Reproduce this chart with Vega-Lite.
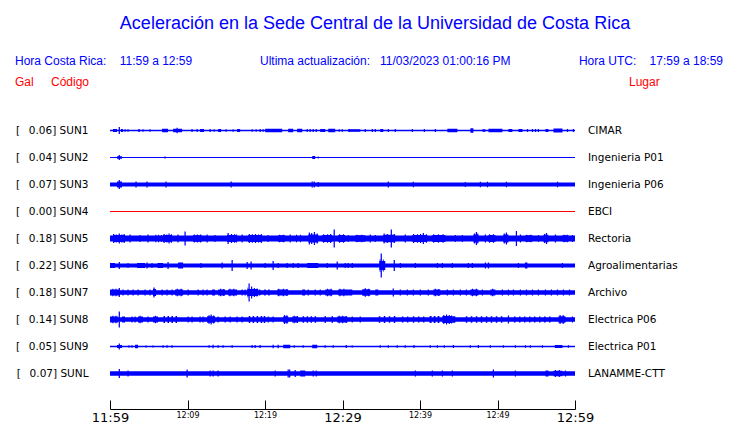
{
"$schema":"https://vega.github.io/schema/vega-lite/v6.json",
"width":465,"height":270,
"autosize":"none",
"padding":{"left":110,"top":117,"right":165,"bottom":36},
"background":"white",
"config":{"view":{"stroke":null},"font":"DejaVu Sans"},
"datasets":{
"estaciones":[
{"est":"SUN1","etiqueta":"[\u00a0\u00a0\u20090.06] SUN1","lugar":"CIMAR"},
{"est":"SUN2","etiqueta":"[\u00a0\u00a0\u20090.04] SUN2","lugar":"Ingenieria P01"},
{"est":"SUN3","etiqueta":"[\u00a0\u00a0\u20090.07] SUN3","lugar":"Ingenieria P06"},
{"est":"SUN4","etiqueta":"[\u00a0\u00a0\u20090.00] SUN4","lugar":"EBCI"},
{"est":"SUN5","etiqueta":"[\u00a0\u00a0\u20090.18] SUN5","lugar":"Rectoria"},
{"est":"SUN6","etiqueta":"[\u00a0\u00a0\u20090.22] SUN6","lugar":"Agroalimentarias"},
{"est":"SUN7","etiqueta":"[\u00a0\u00a0\u20090.18] SUN7","lugar":"Archivo"},
{"est":"SUN8","etiqueta":"[\u00a0\u00a0\u20090.14] SUN8","lugar":"Electrica P06"},
{"est":"SUN9","etiqueta":"[\u00a0\u00a0\u20090.05] SUN9","lugar":"Electrica P01"},
{"est":"SUNL","etiqueta":"[\u00a0\u00a0\u20090.07] SUNL","lugar":"LANAMME-CTT"}
],
"trazas":[
{"est":"SUN1","t0":0,"t1":60,"amp":1.5},{"est":"SUN1","t0":0.39,"t1":0.9,"amp":3},{"est":"SUN1","t0":1.12,"t1":1.28,"amp":7},{"est":"SUN1","t0":1.42,"t1":1.68,"amp":3},{"est":"SUN1","t0":1.86,"t1":2.02,"amp":2.5},{"est":"SUN1","t0":2.25,"t1":2.4,"amp":2.5},{"est":"SUN1","t0":3.62,"t1":3.88,"amp":2.5},{"est":"SUN1","t0":4.19,"t1":4.34,"amp":2.5},{"est":"SUN1","t0":5.09,"t1":5.24,"amp":2.5},{"est":"SUN1","t0":6.72,"t1":7.49,"amp":3.5},{"est":"SUN1","t0":8.14,"t1":9.3,"amp":3.5},{"est":"SUN1","t0":8.58,"t1":8.73,"amp":5.5},{"est":"SUN1","t0":10.51,"t1":10.67,"amp":3},{"est":"SUN1","t0":11.16,"t1":11.32,"amp":3},{"est":"SUN1","t0":11.62,"t1":12.14,"amp":3},{"est":"SUN1","t0":12.84,"t1":13,"amp":3},{"est":"SUN1","t0":13.36,"t1":13.51,"amp":2.5},{"est":"SUN1","t0":13.95,"t1":14.34,"amp":3},{"est":"SUN1","t0":14.9,"t1":15.06,"amp":2.5},{"est":"SUN1","t0":15.81,"t1":15.97,"amp":2.5},{"est":"SUN1","t0":16.4,"t1":16.79,"amp":3},{"est":"SUN1","t0":18.26,"t1":18.42,"amp":2.5},{"est":"SUN1","t0":18.78,"t1":18.94,"amp":2.5},{"est":"SUN1","t0":19.29,"t1":19.45,"amp":3},{"est":"SUN1","t0":19.68,"t1":19.84,"amp":2.5},{"est":"SUN1","t0":20.02,"t1":22.22,"amp":3.5},{"est":"SUN1","t0":22.99,"t1":23.64,"amp":3.5},{"est":"SUN1","t0":24.15,"t1":24.8,"amp":3.5},{"est":"SUN1","t0":25.37,"t1":25.53,"amp":3},{"est":"SUN1","t0":25.75,"t1":25.91,"amp":3},{"est":"SUN1","t0":26.14,"t1":26.3,"amp":3},{"est":"SUN1","t0":26.53,"t1":26.69,"amp":3},{"est":"SUN1","t0":27.12,"t1":27.77,"amp":3},{"est":"SUN1","t0":28.16,"t1":29.06,"amp":3.5},{"est":"SUN1","t0":29.5,"t1":29.66,"amp":2.5},{"est":"SUN1","t0":29.89,"t1":30.05,"amp":2.5},{"est":"SUN1","t0":30.74,"t1":32.29,"amp":2.5},{"est":"SUN1","t0":30.79,"t1":30.95,"amp":3},{"est":"SUN1","t0":32.86,"t1":33.02,"amp":3},{"est":"SUN1","t0":33.77,"t1":33.93,"amp":3},{"est":"SUN1","t0":34.15,"t1":34.31,"amp":3},{"est":"SUN1","t0":34.87,"t1":35.26,"amp":3},{"est":"SUN1","t0":35.83,"t1":35.99,"amp":3},{"est":"SUN1","t0":36.73,"t1":36.89,"amp":3},{"est":"SUN1","t0":38.93,"t1":39.09,"amp":3},{"est":"SUN1","t0":40.48,"t1":40.64,"amp":3},{"est":"SUN1","t0":41.9,"t1":42.06,"amp":3},{"est":"SUN1","t0":43.53,"t1":44.82,"amp":3.5},{"est":"SUN1","t0":46.5,"t1":46.89,"amp":4.5},{"est":"SUN1","t0":48.05,"t1":48.44,"amp":2.5},{"est":"SUN1","t0":48.83,"t1":50.63,"amp":3.5},{"est":"SUN1","t0":51.41,"t1":51.92,"amp":3},{"est":"SUN1","t0":52.7,"t1":53.22,"amp":3},{"est":"SUN1","t0":53.79,"t1":53.95,"amp":3},{"est":"SUN1","t0":54.43,"t1":54.59,"amp":3},{"est":"SUN1","t0":54.82,"t1":54.98,"amp":3},{"est":"SUN1","t0":55.2,"t1":55.36,"amp":3},{"est":"SUN1","t0":56.19,"t1":56.57,"amp":3},{"est":"SUN1","t0":57.22,"t1":58.38,"amp":4},{"est":"SUN1","t0":58.95,"t1":59.11,"amp":3},{"est":"SUN1","t0":59.72,"t1":59.88,"amp":3},
{"est":"SUN2","t0":0,"t1":60,"amp":1},{"est":"SUN2","t0":0.9,"t1":1.55,"amp":2.5},{"est":"SUN2","t0":1.12,"t1":1.28,"amp":5},{"est":"SUN2","t0":7.02,"t1":7.18,"amp":2},{"est":"SUN2","t0":26.09,"t1":26.48,"amp":3},{"est":"SUN2","t0":26.79,"t1":26.95,"amp":2},
{"est":"SUN3","t0":0,"t1":60,"amp":4},{"est":"SUN3","t0":0.9,"t1":1.55,"amp":6},{"est":"SUN3","t0":1.12,"t1":1.28,"amp":9},{"est":"SUN3","t0":3.28,"t1":3.44,"amp":6},{"est":"SUN3","t0":4.7,"t1":4.86,"amp":6},{"est":"SUN3","t0":7.15,"t1":7.31,"amp":6},{"est":"SUN3","t0":15.55,"t1":15.71,"amp":6},{"est":"SUN3","t0":26.01,"t1":26.17,"amp":6},{"est":"SUN3","t0":26.27,"t1":26.43,"amp":6},{"est":"SUN3","t0":26.79,"t1":26.95,"amp":5},{"est":"SUN3","t0":35.83,"t1":35.99,"amp":6},{"est":"SUN3","t0":39.06,"t1":39.22,"amp":5.5},{"est":"SUN3","t0":45.77,"t1":45.93,"amp":5},{"est":"SUN3","t0":47.71,"t1":47.87,"amp":5.5},{"est":"SUN3","t0":48.62,"t1":48.78,"amp":5.5},{"est":"SUN3","t0":51.07,"t1":51.23,"amp":5.5},{"est":"SUN3","t0":57.66,"t1":57.82,"amp":5.5},
{"est":"SUN4","t0":0,"t1":60,"amp":1},
{"est":"SUN5","t0":0,"t1":60,"amp":6},
{"est":"SUN5","t0":0.39,"t1":1.94,"amp":7},{"est":"SUN5","t0":0.39,"t1":0.55,"amp":9},{"est":"SUN5","t0":0.75,"t1":0.9,"amp":8},{"est":"SUN5","t0":1.12,"t1":1.28,"amp":10},{"est":"SUN5","t0":1.45,"t1":1.6,"amp":8},{"est":"SUN5","t0":1.75,"t1":1.9,"amp":9},
{"est":"SUN5","t0":2.51,"t1":2.67,"amp":8},{"est":"SUN5","t0":3.8,"t1":3.96,"amp":7},{"est":"SUN5","t0":4.83,"t1":4.99,"amp":8},
{"est":"SUN5","t0":5.85,"t1":6,"amp":7.5},{"est":"SUN5","t0":6.2,"t1":6.35,"amp":7.5},{"est":"SUN5","t0":6.55,"t1":6.7,"amp":7},
{"est":"SUN5","t0":6.85,"t1":8.01,"amp":7},{"est":"SUN5","t0":6.9,"t1":7.05,"amp":9},{"est":"SUN5","t0":7.25,"t1":7.4,"amp":8},{"est":"SUN5","t0":7.54,"t1":7.7,"amp":10},{"est":"SUN5","t0":7.85,"t1":8,"amp":8.5},
{"est":"SUN5","t0":8.7,"t1":8.86,"amp":8},{"est":"SUN5","t0":9.61,"t1":9.77,"amp":14},
{"est":"SUN5","t0":10.72,"t1":11.88,"amp":6.5},{"est":"SUN5","t0":10.8,"t1":10.95,"amp":8},{"est":"SUN5","t0":11.2,"t1":11.35,"amp":8},{"est":"SUN5","t0":11.6,"t1":11.75,"amp":8},
{"est":"SUN5","t0":12.45,"t1":12.61,"amp":8},{"est":"SUN5","t0":13.48,"t1":13.64,"amp":7},
{"est":"SUN5","t0":15.11,"t1":16.4,"amp":7},{"est":"SUN5","t0":15.16,"t1":15.32,"amp":11},{"est":"SUN5","t0":15.6,"t1":15.75,"amp":9},{"est":"SUN5","t0":16,"t1":16.15,"amp":8.5},{"est":"SUN5","t0":16.25,"t1":16.4,"amp":8},
{"est":"SUN5","t0":16.97,"t1":17.13,"amp":8},
{"est":"SUN5","t0":17.82,"t1":19.63,"amp":7},{"est":"SUN5","t0":17.9,"t1":18.05,"amp":9},{"est":"SUN5","t0":18.3,"t1":18.45,"amp":8.5},{"est":"SUN5","t0":18.7,"t1":18.85,"amp":9},{"est":"SUN5","t0":19.1,"t1":19.25,"amp":8},{"est":"SUN5","t0":19.45,"t1":19.6,"amp":9},
{"est":"SUN5","t0":20.33,"t1":20.49,"amp":7},
{"est":"SUN5","t0":21.7,"t1":22.6,"amp":6.5},{"est":"SUN5","t0":21.8,"t1":21.95,"amp":7.5},{"est":"SUN5","t0":22.3,"t1":22.45,"amp":7.5},
{"est":"SUN5","t0":23.17,"t1":23.33,"amp":8},{"est":"SUN5","t0":24,"t1":24.15,"amp":7.5},{"est":"SUN5","t0":24.5,"t1":24.65,"amp":7.5},
{"est":"SUN5","t0":25.58,"t1":26.87,"amp":8},{"est":"SUN5","t0":25.65,"t1":25.8,"amp":12},{"est":"SUN5","t0":25.95,"t1":26.1,"amp":11},{"est":"SUN5","t0":26.3,"t1":26.45,"amp":13},{"est":"SUN5","t0":26.65,"t1":26.8,"amp":10},
{"est":"SUN5","t0":27.38,"t1":28.68,"amp":7},{"est":"SUN5","t0":27.5,"t1":27.65,"amp":8.5},{"est":"SUN5","t0":28,"t1":28.15,"amp":8.5},{"est":"SUN5","t0":28.4,"t1":28.55,"amp":9},
{"est":"SUN5","t0":28.85,"t1":29.01,"amp":18},
{"est":"SUN5","t0":29.45,"t1":30.35,"amp":7},{"est":"SUN5","t0":29.55,"t1":29.7,"amp":8.5},{"est":"SUN5","t0":30.05,"t1":30.2,"amp":8.5},
{"est":"SUN5","t0":30.66,"t1":30.82,"amp":7},
{"est":"SUN5","t0":31.65,"t1":32.94,"amp":6.5},{"est":"SUN5","t0":31.8,"t1":31.95,"amp":7.5},{"est":"SUN5","t0":32.4,"t1":32.55,"amp":7.5},
{"est":"SUN5","t0":33.5,"t1":33.66,"amp":8},{"est":"SUN5","t0":34.15,"t1":34.31,"amp":7},
{"est":"SUN5","t0":35.26,"t1":36.81,"amp":7.5},{"est":"SUN5","t0":35.3,"t1":35.45,"amp":10},{"est":"SUN5","t0":35.7,"t1":35.85,"amp":9},{"est":"SUN5","t0":36.22,"t1":36.38,"amp":18},{"est":"SUN5","t0":36.6,"t1":36.75,"amp":9},
{"est":"SUN5","t0":38.02,"t1":38.18,"amp":8},
{"est":"SUN5","t0":39.01,"t1":40.95,"amp":7},{"est":"SUN5","t0":39.1,"t1":39.25,"amp":9},{"est":"SUN5","t0":39.6,"t1":39.75,"amp":8.5},{"est":"SUN5","t0":40,"t1":40.15,"amp":9},{"est":"SUN5","t0":40.35,"t1":40.51,"amp":11},{"est":"SUN5","t0":40.75,"t1":40.9,"amp":8.5},
{"est":"SUN5","t0":41.59,"t1":43.27,"amp":7},{"est":"SUN5","t0":41.7,"t1":41.85,"amp":8.5},{"est":"SUN5","t0":42.3,"t1":42.45,"amp":8.5},{"est":"SUN5","t0":42.9,"t1":43.05,"amp":8.5},
{"est":"SUN5","t0":44.49,"t1":44.65,"amp":7},{"est":"SUN5","t0":45.39,"t1":45.55,"amp":7},
{"est":"SUN5","t0":46.89,"t1":47.53,"amp":8},{"est":"SUN5","t0":46.95,"t1":47.1,"amp":10},{"est":"SUN5","t0":47.2,"t1":47.36,"amp":13},{"est":"SUN5","t0":47.4,"t1":47.53,"amp":10},
{"est":"SUN5","t0":48.36,"t1":48.52,"amp":8},
{"est":"SUN5","t0":48.83,"t1":49.73,"amp":7},{"est":"SUN5","t0":48.9,"t1":49.05,"amp":8.5},{"est":"SUN5","t0":49.4,"t1":49.55,"amp":8.5},
{"est":"SUN5","t0":50.76,"t1":51.41,"amp":8},{"est":"SUN5","t0":50.8,"t1":50.95,"amp":10},{"est":"SUN5","t0":51.07,"t1":51.23,"amp":12},
{"est":"SUN5","t0":52.36,"t1":52.52,"amp":15},{"est":"SUN5","t0":52.88,"t1":53.04,"amp":8},
{"est":"SUN5","t0":53.6,"t1":54.51,"amp":6.5},{"est":"SUN5","t0":53.7,"t1":53.85,"amp":7.5},{"est":"SUN5","t0":54.2,"t1":54.35,"amp":7.5},
{"est":"SUN5","t0":55.2,"t1":55.36,"amp":7},
{"est":"SUN5","t0":55.93,"t1":56.57,"amp":7.5},{"est":"SUN5","t0":56,"t1":56.15,"amp":9},{"est":"SUN5","t0":56.24,"t1":56.4,"amp":11},
{"est":"SUN5","t0":57.4,"t1":57.56,"amp":8},
{"est":"SUN5","t0":58.38,"t1":59.16,"amp":6.5},{"est":"SUN5","t0":58.5,"t1":58.65,"amp":7.5},{"est":"SUN5","t0":58.9,"t1":59.05,"amp":7.5},
{"est":"SUN5","t0":59.59,"t1":59.75,"amp":7},
{"est":"SUN6","t0":0,"t1":60,"amp":4},{"est":"SUN6","t0":0,"t1":0.65,"amp":5},{"est":"SUN6","t0":1.12,"t1":1.28,"amp":7},{"est":"SUN6","t0":2.25,"t1":2.4,"amp":5},{"est":"SUN6","t0":3.49,"t1":4.52,"amp":5},{"est":"SUN6","t0":4.7,"t1":4.86,"amp":6},{"est":"SUN6","t0":5.35,"t1":5.5,"amp":5},{"est":"SUN6","t0":6.12,"t1":6.85,"amp":5},{"est":"SUN6","t0":7.41,"t1":7.57,"amp":7},{"est":"SUN6","t0":8.78,"t1":9.43,"amp":6},{"est":"SUN6","t0":11.67,"t1":11.83,"amp":5},{"est":"SUN6","t0":14.39,"t1":14.55,"amp":6},{"est":"SUN6","t0":15.68,"t1":15.84,"amp":11},{"est":"SUN6","t0":17.62,"t1":17.78,"amp":7},{"est":"SUN6","t0":18.13,"t1":18.29,"amp":8},{"est":"SUN6","t0":19.94,"t1":20.1,"amp":5},{"est":"SUN6","t0":20.97,"t1":21.13,"amp":9},{"est":"SUN6","t0":21.62,"t1":21.78,"amp":5},{"est":"SUN6","t0":22.78,"t1":22.94,"amp":5},{"est":"SUN6","t0":23.56,"t1":23.72,"amp":5},{"est":"SUN6","t0":24.2,"t1":24.36,"amp":5},{"est":"SUN6","t0":25.45,"t1":26.87,"amp":5},{"est":"SUN6","t0":27.95,"t1":28.11,"amp":5},{"est":"SUN6","t0":29.24,"t1":29.4,"amp":8},{"est":"SUN6","t0":30.27,"t1":30.43,"amp":5},{"est":"SUN6","t0":30.66,"t1":30.82,"amp":5},{"est":"SUN6","t0":31.18,"t1":31.34,"amp":5},{"est":"SUN6","t0":34.75,"t1":35.52,"amp":9},{"est":"SUN6","t0":34.8,"t1":34.9,"amp":13},{"est":"SUN6","t0":34.92,"t1":35.08,"amp":24},{"est":"SUN6","t0":35.2,"t1":35.32,"amp":12},{"est":"SUN6","t0":36.6,"t1":36.76,"amp":11},{"est":"SUN6","t0":37.38,"t1":37.54,"amp":5},{"est":"SUN6","t0":39.32,"t1":39.48,"amp":5},{"est":"SUN6","t0":42.16,"t1":42.32,"amp":5},{"est":"SUN6","t0":42.81,"t1":42.97,"amp":5},{"est":"SUN6","t0":44.09,"t1":44.25,"amp":5},{"est":"SUN6","t0":46.16,"t1":46.32,"amp":5},{"est":"SUN6","t0":46.68,"t1":46.84,"amp":5},{"est":"SUN6","t0":48.36,"t1":48.52,"amp":6},{"est":"SUN6","t0":48.75,"t1":48.91,"amp":6},{"est":"SUN6","t0":52.62,"t1":52.78,"amp":5},{"est":"SUN6","t0":53.54,"t1":53.86,"amp":6},{"est":"SUN6","t0":58.3,"t1":58.46,"amp":5},
{"est":"SUN7","t0":0,"t1":60,"amp":4.5},{"est":"SUN7","t0":0,"t1":1.29,"amp":6},{"est":"SUN7","t0":0.3,"t1":0.45,"amp":7.5},{"est":"SUN7","t0":0.7,"t1":0.85,"amp":7.5},{"est":"SUN7","t0":1.12,"t1":1.28,"amp":9},{"est":"SUN7","t0":1.6,"t1":1.76,"amp":6},{"est":"SUN7","t0":2.25,"t1":2.4,"amp":6},{"est":"SUN7","t0":2.89,"t1":3.05,"amp":6},{"est":"SUN7","t0":3.54,"t1":3.7,"amp":6},{"est":"SUN7","t0":4.44,"t1":4.6,"amp":6},{"est":"SUN7","t0":5.09,"t1":5.24,"amp":6},{"est":"SUN7","t0":5.55,"t1":5.94,"amp":7},{"est":"SUN7","t0":5.6,"t1":5.76,"amp":10},{"est":"SUN7","t0":6.64,"t1":6.8,"amp":6},{"est":"SUN7","t0":7.28,"t1":7.44,"amp":6},{"est":"SUN7","t0":7.93,"t1":8.09,"amp":6},{"est":"SUN7","t0":8.4,"t1":9.43,"amp":6},{"est":"SUN7","t0":8.6,"t1":8.75,"amp":7.5},{"est":"SUN7","t0":9.1,"t1":9.25,"amp":7.5},{"est":"SUN7","t0":10,"t1":10.16,"amp":6},{"est":"SUN7","t0":11.29,"t1":11.45,"amp":6},{"est":"SUN7","t0":11.93,"t1":12.09,"amp":6},{"est":"SUN7","t0":12.45,"t1":12.61,"amp":6},{"est":"SUN7","t0":13.17,"t1":13.56,"amp":6},{"est":"SUN7","t0":13.95,"t1":14.85,"amp":6},{"est":"SUN7","t0":14.2,"t1":14.35,"amp":7.5},{"est":"SUN7","t0":14.6,"t1":14.75,"amp":7},{"est":"SUN7","t0":15.24,"t1":16.4,"amp":6},{"est":"SUN7","t0":15.4,"t1":15.55,"amp":7.5},{"est":"SUN7","t0":15.9,"t1":16.05,"amp":7.5},{"est":"SUN7","t0":16.97,"t1":17.13,"amp":6},{"est":"SUN7","t0":17.36,"t1":17.52,"amp":6},{"est":"SUN7","t0":17.7,"t1":19.12,"amp":7},{"est":"SUN7","t0":17.75,"t1":17.85,"amp":10},{"est":"SUN7","t0":17.87,"t1":18.03,"amp":18},{"est":"SUN7","t0":18.2,"t1":18.35,"amp":12},{"est":"SUN7","t0":18.55,"t1":18.7,"amp":9},{"est":"SUN7","t0":18.9,"t1":19.05,"amp":8},{"est":"SUN7","t0":19.2,"t1":19.4,"amp":6},{"est":"SUN7","t0":19.9,"t1":20.1,"amp":6},{"est":"SUN7","t0":20.4,"t1":20.6,"amp":6},{"est":"SUN7","t0":21.57,"t1":22.99,"amp":6},{"est":"SUN7","t0":21.7,"t1":21.85,"amp":7.5},{"est":"SUN7","t0":22.3,"t1":22.45,"amp":7.5},{"est":"SUN7","t0":22.75,"t1":22.9,"amp":7},{"est":"SUN7","t0":24.8,"t1":25.19,"amp":6},{"est":"SUN7","t0":25.5,"t1":25.66,"amp":6},{"est":"SUN7","t0":26.4,"t1":26.56,"amp":6},{"est":"SUN7","t0":27.05,"t1":27.2,"amp":6},{"est":"SUN7","t0":27.77,"t1":28.68,"amp":6},{"est":"SUN7","t0":28,"t1":28.15,"amp":7.5},{"est":"SUN7","t0":28.45,"t1":28.6,"amp":7.5},{"est":"SUN7","t0":29.45,"t1":30.74,"amp":6},{"est":"SUN7","t0":29.6,"t1":29.75,"amp":7.5},{"est":"SUN7","t0":30.1,"t1":30.25,"amp":7.5},{"est":"SUN7","t0":30.74,"t1":31.26,"amp":6},{"est":"SUN7","t0":32.55,"t1":33.58,"amp":6.5},{"est":"SUN7","t0":32.86,"t1":33.02,"amp":8.5},{"est":"SUN7","t0":33.3,"t1":33.45,"amp":7.5},{"est":"SUN7","t0":34.23,"t1":34.62,"amp":6},{"est":"SUN7","t0":36.47,"t1":36.63,"amp":8},{"est":"SUN7","t0":37.38,"t1":37.54,"amp":6},{"est":"SUN7","t0":38.28,"t1":38.44,"amp":6},{"est":"SUN7","t0":39.06,"t1":39.22,"amp":6},{"est":"SUN7","t0":39.96,"t1":40.12,"amp":6},{"est":"SUN7","t0":40.99,"t1":41.15,"amp":6},{"est":"SUN7","t0":41.72,"t1":42.62,"amp":6},{"est":"SUN7","t0":41.9,"t1":42.05,"amp":7.5},{"est":"SUN7","t0":42.35,"t1":42.5,"amp":7},{"est":"SUN7","t0":43.45,"t1":43.61,"amp":6},{"est":"SUN7","t0":44.23,"t1":44.39,"amp":6},{"est":"SUN7","t0":45.13,"t1":45.29,"amp":6},{"est":"SUN7","t0":45.9,"t1":46.06,"amp":6},{"est":"SUN7","t0":46.5,"t1":47.53,"amp":6},{"est":"SUN7","t0":46.7,"t1":46.85,"amp":7.5},{"est":"SUN7","t0":47.2,"t1":47.35,"amp":7.5},{"est":"SUN7","t0":47.97,"t1":48.13,"amp":6},{"est":"SUN7","t0":49.08,"t1":49.73,"amp":6},{"est":"SUN7","t0":49.3,"t1":49.45,"amp":7.5},{"est":"SUN7","t0":50.55,"t1":50.71,"amp":6},{"est":"SUN7","t0":51.33,"t1":51.49,"amp":6},{"est":"SUN7","t0":51.98,"t1":52.14,"amp":6},{"est":"SUN7","t0":52.88,"t1":53.04,"amp":6},{"est":"SUN7","t0":53.66,"t1":53.82,"amp":6},{"est":"SUN7","t0":54.43,"t1":54.59,"amp":6},{"est":"SUN7","t0":55.2,"t1":55.36,"amp":6},{"est":"SUN7","t0":56.11,"t1":56.27,"amp":6},{"est":"SUN7","t0":56.88,"t1":57.04,"amp":6},{"est":"SUN7","t0":57.66,"t1":57.82,"amp":6},{"est":"SUN7","t0":58.43,"t1":58.59,"amp":6},{"est":"SUN7","t0":59.21,"t1":59.37,"amp":6},
{"est":"SUN8","t0":0,"t1":60,"amp":4.5},{"est":"SUN8","t0":0,"t1":1.03,"amp":6},{"est":"SUN8","t0":0.3,"t1":0.45,"amp":7.5},{"est":"SUN8","t0":0.7,"t1":0.85,"amp":7.5},{"est":"SUN8","t0":1.12,"t1":1.28,"amp":16},{"est":"SUN8","t0":1.55,"t1":1.94,"amp":6},{"est":"SUN8","t0":2.76,"t1":2.92,"amp":6},{"est":"SUN8","t0":3.15,"t1":3.31,"amp":6},{"est":"SUN8","t0":3.62,"t1":4.26,"amp":6},{"est":"SUN8","t0":3.8,"t1":3.95,"amp":7.5},{"est":"SUN8","t0":4.83,"t1":4.99,"amp":6},{"est":"SUN8","t0":5.55,"t1":6.2,"amp":6},{"est":"SUN8","t0":5.8,"t1":5.95,"amp":7.5},{"est":"SUN8","t0":6.9,"t1":7.1,"amp":7},{"est":"SUN8","t0":7.42,"t1":7.62,"amp":7},{"est":"SUN8","t0":7.93,"t1":8.13,"amp":7},{"est":"SUN8","t0":8.45,"t1":8.65,"amp":7},{"est":"SUN8","t0":10,"t1":10.16,"amp":6},{"est":"SUN8","t0":10.51,"t1":10.67,"amp":6},{"est":"SUN8","t0":11.54,"t1":11.7,"amp":6},{"est":"SUN8","t0":11.93,"t1":12.09,"amp":6},{"est":"SUN8","t0":12.53,"t1":13.56,"amp":6.5},{"est":"SUN8","t0":12.7,"t1":12.85,"amp":8.5},{"est":"SUN8","t0":12.97,"t1":13.13,"amp":10},{"est":"SUN8","t0":13.3,"t1":13.45,"amp":8},{"est":"SUN8","t0":13.87,"t1":14.03,"amp":6},{"est":"SUN8","t0":14.77,"t1":14.93,"amp":6},{"est":"SUN8","t0":15.42,"t1":15.58,"amp":6},{"est":"SUN8","t0":16.32,"t1":16.48,"amp":6},{"est":"SUN8","t0":16.97,"t1":17.13,"amp":6},{"est":"SUN8","t0":17.9,"t1":18.1,"amp":7},{"est":"SUN8","t0":18.4,"t1":18.6,"amp":7},{"est":"SUN8","t0":18.92,"t1":19.12,"amp":7},{"est":"SUN8","t0":19.44,"t1":19.64,"amp":7},{"est":"SUN8","t0":19.83,"t1":20.03,"amp":7},{"est":"SUN8","t0":20.33,"t1":20.49,"amp":6},{"est":"SUN8","t0":20.97,"t1":21.13,"amp":6},{"est":"SUN8","t0":22.35,"t1":22.99,"amp":6.5},{"est":"SUN8","t0":22.45,"t1":22.6,"amp":9},{"est":"SUN8","t0":22.75,"t1":22.9,"amp":8.5},{"est":"SUN8","t0":23.51,"t1":24.28,"amp":6},{"est":"SUN8","t0":23.7,"t1":23.85,"amp":7.5},{"est":"SUN8","t0":24.1,"t1":24.25,"amp":7},{"est":"SUN8","t0":24.85,"t1":25.05,"amp":6.5},{"est":"SUN8","t0":25.37,"t1":25.57,"amp":6.5},{"est":"SUN8","t0":25.88,"t1":26.08,"amp":6.5},{"est":"SUN8","t0":26.4,"t1":26.6,"amp":6.5},{"est":"SUN8","t0":27.69,"t1":27.85,"amp":7},{"est":"SUN8","t0":28.6,"t1":28.76,"amp":7},{"est":"SUN8","t0":29.32,"t1":30.61,"amp":6},{"est":"SUN8","t0":29.5,"t1":29.65,"amp":7.5},{"est":"SUN8","t0":29.95,"t1":30.1,"amp":7.5},{"est":"SUN8","t0":30.4,"t1":30.55,"amp":7},{"est":"SUN8","t0":31.18,"t1":31.34,"amp":6},{"est":"SUN8","t0":32.21,"t1":32.37,"amp":6},{"est":"SUN8","t0":34.68,"t1":34.88,"amp":6.5},{"est":"SUN8","t0":35.33,"t1":35.52,"amp":7},{"est":"SUN8","t0":35.97,"t1":36.17,"amp":6.5},{"est":"SUN8","t0":36.62,"t1":36.81,"amp":7},{"est":"SUN8","t0":37.66,"t1":37.85,"amp":6},{"est":"SUN8","t0":38.31,"t1":38.5,"amp":6},{"est":"SUN8","t0":39.08,"t1":39.27,"amp":6.5},{"est":"SUN8","t0":39.73,"t1":39.92,"amp":6},{"est":"SUN8","t0":40.38,"t1":40.57,"amp":6},{"est":"SUN8","t0":41.24,"t1":41.5,"amp":7},{"est":"SUN8","t0":41.76,"t1":42,"amp":7},{"est":"SUN8","t0":42.27,"t1":42.5,"amp":7},{"est":"SUN8","t0":42.88,"t1":44.17,"amp":7},{"est":"SUN8","t0":43,"t1":43.15,"amp":9},{"est":"SUN8","t0":43.35,"t1":43.5,"amp":10},{"est":"SUN8","t0":43.7,"t1":43.85,"amp":9},{"est":"SUN8","t0":44.0,"t1":44.15,"amp":8},{"est":"SUN8","t0":44.17,"t1":44.56,"amp":6.5},{"est":"SUN8","t0":45.9,"t1":46.1,"amp":6.5},{"est":"SUN8","t0":46.55,"t1":46.75,"amp":6.5},{"est":"SUN8","t0":47.2,"t1":47.4,"amp":6.5},{"est":"SUN8","t0":47.84,"t1":48.04,"amp":6.5},{"est":"SUN8","t0":48.49,"t1":48.69,"amp":6.5},{"est":"SUN8","t0":49.13,"t1":49.33,"amp":6.5},{"est":"SUN8","t0":49.78,"t1":49.98,"amp":6.5},{"est":"SUN8","t0":50.43,"t1":50.63,"amp":6.5},{"est":"SUN8","t0":51.33,"t1":51.49,"amp":8},{"est":"SUN8","t0":52.12,"t1":52.32,"amp":6},{"est":"SUN8","t0":52.77,"t1":52.97,"amp":6},{"est":"SUN8","t0":53.41,"t1":53.61,"amp":6},{"est":"SUN8","t0":54.06,"t1":54.26,"amp":6},{"est":"SUN8","t0":54.7,"t1":54.9,"amp":6},{"est":"SUN8","t0":55.35,"t1":55.55,"amp":6},{"est":"SUN8","t0":56,"t1":56.2,"amp":6},{"est":"SUN8","t0":56.64,"t1":56.84,"amp":6},{"est":"SUN8","t0":57.87,"t1":58.77,"amp":6.5},{"est":"SUN8","t0":58,"t1":58.15,"amp":9},{"est":"SUN8","t0":58.4,"t1":58.55,"amp":9},{"est":"SUN8","t0":59.59,"t1":59.75,"amp":6},
{"est":"SUN9","t0":0,"t1":60,"amp":1.5},{"est":"SUN9","t0":0.9,"t1":1.55,"amp":3},{"est":"SUN9","t0":1.12,"t1":1.28,"amp":6},{"est":"SUN9","t0":2.38,"t1":2.53,"amp":2.5},{"est":"SUN9","t0":2.76,"t1":2.92,"amp":2.5},{"est":"SUN9","t0":3.23,"t1":3.62,"amp":3.5},{"est":"SUN9","t0":4.57,"t1":4.73,"amp":2},{"est":"SUN9","t0":5.47,"t1":5.63,"amp":2},{"est":"SUN9","t0":6.77,"t1":6.93,"amp":2.5},{"est":"SUN9","t0":7.28,"t1":7.44,"amp":2.5},{"est":"SUN9","t0":7.93,"t1":8.09,"amp":2.5},{"est":"SUN9","t0":12.71,"t1":12.87,"amp":2.5},{"est":"SUN9","t0":13.22,"t1":13.38,"amp":3.5},{"est":"SUN9","t0":13.87,"t1":14.03,"amp":2.5},{"est":"SUN9","t0":14.52,"t1":14.68,"amp":2.5},{"est":"SUN9","t0":15.68,"t1":15.84,"amp":2.5},{"est":"SUN9","t0":18.26,"t1":18.42,"amp":3},{"est":"SUN9","t0":18.65,"t1":18.81,"amp":3},{"est":"SUN9","t0":19.29,"t1":19.45,"amp":3},{"est":"SUN9","t0":20.97,"t1":21.13,"amp":3.5},{"est":"SUN9","t0":21.62,"t1":21.78,"amp":3.5},{"est":"SUN9","t0":22.35,"t1":23.25,"amp":3.5},{"est":"SUN9","t0":23.69,"t1":23.85,"amp":2.5},{"est":"SUN9","t0":24.85,"t1":25.01,"amp":2.5},{"est":"SUN9","t0":26.09,"t1":26.74,"amp":3.5},{"est":"SUN9","t0":27.69,"t1":27.85,"amp":2.5},{"est":"SUN9","t0":28.73,"t1":28.89,"amp":2.5},{"est":"SUN9","t0":30.4,"t1":30.56,"amp":3},{"est":"SUN9","t0":31.18,"t1":31.34,"amp":2},{"est":"SUN9","t0":34.79,"t1":34.95,"amp":2.5},{"est":"SUN9","t0":35.83,"t1":35.99,"amp":2.5},{"est":"SUN9","t0":36.99,"t1":37.15,"amp":2.5},{"est":"SUN9","t0":38.02,"t1":38.18,"amp":2.5},{"est":"SUN9","t0":39.14,"t1":39.3,"amp":3},{"est":"SUN9","t0":41.25,"t1":41.41,"amp":2.5},{"est":"SUN9","t0":42.16,"t1":42.32,"amp":2.5},{"est":"SUN9","t0":43.06,"t1":43.22,"amp":2.5},{"est":"SUN9","t0":44.23,"t1":44.39,"amp":3},{"est":"SUN9","t0":46.42,"t1":46.58,"amp":2.5},{"est":"SUN9","t0":47.45,"t1":47.61,"amp":3},{"est":"SUN9","t0":49,"t1":49.16,"amp":2.5},{"est":"SUN9","t0":50.68,"t1":50.84,"amp":2.5},{"est":"SUN9","t0":52.23,"t1":52.39,"amp":2.5},{"est":"SUN9","t0":53.53,"t1":53.69,"amp":2.5},{"est":"SUN9","t0":54.17,"t1":54.33,"amp":2.5},{"est":"SUN9","t0":55.72,"t1":55.88,"amp":2.5},{"est":"SUN9","t0":57.4,"t1":58.38,"amp":3},{"est":"SUN9","t0":59.08,"t1":59.24,"amp":2.5},
{"est":"SUNL","t0":0,"t1":60,"amp":4.5},{"est":"SUNL","t0":1.12,"t1":1.28,"amp":9},{"est":"SUNL","t0":2.25,"t1":2.4,"amp":6},{"est":"SUNL","t0":9.87,"t1":10.03,"amp":8},{"est":"SUNL","t0":12.84,"t1":13,"amp":6},{"est":"SUNL","t0":13.22,"t1":13.38,"amp":6},{"est":"SUNL","t0":13.87,"t1":14.03,"amp":6},{"est":"SUNL","t0":21.23,"t1":21.39,"amp":6},{"est":"SUNL","t0":22.91,"t1":23.07,"amp":8},{"est":"SUNL","t0":23.1,"t1":23.26,"amp":8},{"est":"SUNL","t0":23.82,"t1":23.98,"amp":7},{"est":"SUNL","t0":24.54,"t1":25.19,"amp":6},{"est":"SUNL","t0":26.14,"t1":26.3,"amp":6},{"est":"SUNL","t0":26.53,"t1":26.69,"amp":6},{"est":"SUNL","t0":39.32,"t1":39.48,"amp":6},{"est":"SUNL","t0":41.51,"t1":41.67,"amp":6},{"est":"SUNL","t0":42.81,"t1":42.97,"amp":6},{"est":"SUNL","t0":44.09,"t1":44.25,"amp":6},{"est":"SUNL","t0":49.39,"t1":49.55,"amp":8},{"est":"SUNL","t0":52.23,"t1":52.39,"amp":6},{"est":"SUNL","t0":56.19,"t1":56.57,"amp":6},{"est":"SUNL","t0":57.22,"t1":58.38,"amp":5.5},{"est":"SUNL","t0":57.4,"t1":57.55,"amp":7},{"est":"SUNL","t0":57.9,"t1":58.05,"amp":7},{"est":"SUNL","t0":58.69,"t1":58.85,"amp":6}
]
},
"layer":[
{
"data":{"name":"trazas"},
"transform":[{"lookup":"est","from":{"data":{"name":"estaciones"},"key":"est","fields":["etiqueta"]}}],
"mark":{"type":"rule","strokeCap":"butt","opacity":1},
"encoding":{
"x":{"field":"t0","type":"quantitative","title":null,
"scale":{"domain":[0,60],"nice":false,"zero":false},
"axis":{"values":[0,5,10,15,20,25,30,35,40,45,50,55,60],"offset":22,"grid":false,"domainColor":"black","tickColor":"black","tickSize":-9,"labelPadding":11,"labelFlush":false,"labelOverlap":false,"labelColor":"black","labelFont":"DejaVu Sans","labelBaseline":"top","labelExpr":"datum.value % 10 == 0 ? ['11:59','12:09','12:19','12:29','12:39','12:49','12:59'][datum.value/10] : ''","labelFontSize":{"condition":{"test":"datum.value % 30 == 0","value":13},"value":8}}},
"x2":{"field":"t1"},
"y":{"field":"etiqueta","type":"nominal","title":null,
"scale":{"domain":["[\u00a0\u00a0\u20090.06] SUN1","[\u00a0\u00a0\u20090.04] SUN2","[\u00a0\u00a0\u20090.07] SUN3","[\u00a0\u00a0\u20090.00] SUN4","[\u00a0\u00a0\u20090.18] SUN5","[\u00a0\u00a0\u20090.22] SUN6","[\u00a0\u00a0\u20090.18] SUN7","[\u00a0\u00a0\u20090.14] SUN8","[\u00a0\u00a0\u20090.05] SUN9","[\u00a0\u00a0\u20090.07] SUNL"],"paddingInner":0,"paddingOuter":0},
"axis":{"ticks":false,"domain":false,"grid":false,"labelPadding":22,"labelFontSize":10.5,"labelFont":"DejaVu Sans","labelColor":"black"}},
"size":{"field":"amp","type":"quantitative","scale":{"domain":[0,27],"range":[0,27]},"legend":null},
"color":{"condition":{"test":"datum.est === 'SUN4'","value":"#ff0000"},"value":"#0000ff"}
}
},
{
"data":{"name":"estaciones"},
"mark":{"type":"text","align":"left","baseline":"middle","dx":13,"fontSize":10.5,"font":"DejaVu Sans","color":"black"},
"encoding":{
"x":{"datum":60,"type":"quantitative","title":null},
"y":{"field":"etiqueta","type":"nominal","title":null},
"text":{"field":"lugar"}
}
},
{
"data":{"values":[{"texto":"Aceleración en la Sede Central de la Universidad de Costa Rica"}]},
"mark":{"type":"text","x":265,"y":-88.5,"align":"center","baseline":"alphabetic","fontSize":18,"font":"Liberation Sans","color":"#0000ff"},
"encoding":{"text":{"field":"texto"}}
},
{
"data":{"values":[{"texto":"Hora Costa Rica:\u00a0\u00a0\u00a0\u00a011:59 a 12:59"}]},
"mark":{"type":"text","x":-95,"y":-52.5,"align":"left","baseline":"alphabetic","fontSize":12,"font":"Liberation Sans","color":"#0000ff"},
"encoding":{"text":{"field":"texto"}}
},
{
"data":{"values":[{"texto":"Ultima actualización:\u00a0\u00a0\u00a011/03/2023 01:00:16 PM"}]},
"mark":{"type":"text","x":150,"y":-52.5,"align":"left","baseline":"alphabetic","fontSize":12,"font":"Liberation Sans","color":"#0000ff"},
"encoding":{"text":{"field":"texto"}}
},
{
"data":{"values":[{"texto":"Hora UTC:\u00a0\u00a0\u00a0\u00a017:59 a 18:59"}]},
"mark":{"type":"text","x":613,"y":-52.5,"align":"right","baseline":"alphabetic","fontSize":12,"font":"Liberation Sans","color":"#0000ff"},
"encoding":{"text":{"field":"texto"}}
},
{
"data":{"values":[{"texto":"Gal"}]},
"mark":{"type":"text","x":-95,"y":-31.5,"align":"left","baseline":"alphabetic","fontSize":12,"font":"Liberation Sans","color":"#ff0000"},
"encoding":{"text":{"field":"texto"}}
},
{
"data":{"values":[{"texto":"Código"}]},
"mark":{"type":"text","x":-59,"y":-31.5,"align":"left","baseline":"alphabetic","fontSize":12,"font":"Liberation Sans","color":"#ff0000"},
"encoding":{"text":{"field":"texto"}}
},
{
"data":{"values":[{"texto":"Lugar"}]},
"mark":{"type":"text","x":519,"y":-31.5,"align":"left","baseline":"alphabetic","fontSize":12,"font":"Liberation Sans","color":"#ff0000"},
"encoding":{"text":{"field":"texto"}}
}
]
}
